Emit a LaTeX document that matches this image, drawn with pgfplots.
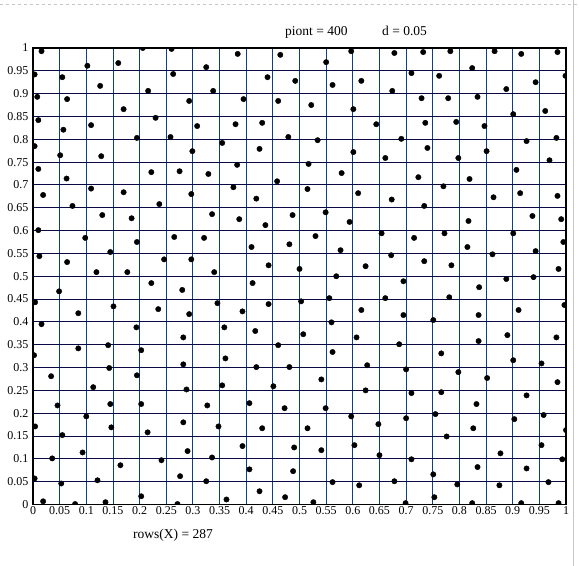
\documentclass[border=0pt]{standalone}
\usepackage{fontspec}
\setmainfont{Liberation Serif}
\usepackage{pgfplots}
\pgfplotsset{compat=1.18}
\definecolor{vgrid}{HTML}{0B3F86}
\definecolor{hgrid}{HTML}{0A0A45}
\begin{document}
\begin{tikzpicture}[x=1bp,y=1bp]
\path[use as bounding box] (0,0) rectangle (579,566);
\draw[gray!45, dashed, line width=0.8bp] (0,562) -- (579,562);
\draw[gray!45, line width=1bp] (573.5,566) -- (573.5,0);
\begin{axis}[
  at={(33bp,61.5bp)}, anchor=south west,
  scale only axis, width=533bp, height=456.5bp,
  xmin=0, xmax=1, ymin=0, ymax=1,
  xtick={0,0.05,0.1,0.15,0.2,0.25,0.3,0.35,0.4,0.45,0.5,0.55,0.6,0.65,0.7,0.75,0.8,0.85,0.9,0.95,1},
  ytick={0,0.05,0.1,0.15,0.2,0.25,0.3,0.35,0.4,0.45,0.5,0.55,0.6,0.65,0.7,0.75,0.8,0.85,0.9,0.95,1},
  xticklabels={0,0.05,0.1,0.15,0.2,0.25,0.3,0.35,0.4,0.45,0.5,0.55,0.6,0.65,0.7,0.75,0.8,0.85,0.9,0.95,1},
  yticklabels={0,0.05,0.1,0.15,0.2,0.25,0.3,0.35,0.4,0.45,0.5,0.55,0.6,0.65,0.7,0.75,0.8,0.85,0.9,0.95,1},
  major tick length=0pt,
  grid=major,
  major x grid style={vgrid, line width=0.9bp},
  major y grid style={hgrid, line width=0.9bp},
  axis line style={black, line width=1.4bp},
  tick label style={font=\fontsize{12bp}{13bp}\selectfont},
  xticklabel style={yshift=1bp},
  yticklabel style={xshift=-1bp},
  /pgf/number format/assume math mode=true,
  clip marker paths=true,
]
\addplot[only marks, mark=*, mark size=2.7bp, black] table[row sep=\\] {
x y\\
0.016 0.993\\ 0.206 1.000\\ 0.260 0.998\\ 0.102 0.961\\ 0.160 0.967\\ 0.325 0.958\\
0.003 0.942\\ 0.055 0.936\\ 0.263 0.943\\ 0.126 0.917\\ 0.216 0.906\\ 0.338 0.906\\
0.008 0.893\\ 0.064 0.888\\ 0.293 0.884\\ 0.170 0.866\\ 0.010 0.842\\ 0.230 0.847\\
0.057 0.821\\ 0.109 0.831\\ 0.308 0.829\\ 0.195 0.803\\ 0.258 0.805\\ 0.003 0.785\\
0.051 0.765\\ 0.128 0.763\\ 0.299 0.774\\ 0.010 0.735\\ 0.063 0.714\\ 0.222 0.728\\
0.275 0.730\\ 0.329 0.724\\ 0.019 0.678\\ 0.109 0.692\\ 0.170 0.684\\ 0.297 0.680\\
0.384 0.987\\ 0.464 0.985\\ 0.597 0.993\\ 0.678 0.989\\ 0.550 0.969\\ 0.440 0.936\\
0.492 0.928\\ 0.562 0.919\\ 0.616 0.928\\ 0.674 0.906\\ 0.395 0.888\\ 0.460 0.884\\
0.522 0.875\\ 0.601 0.866\\ 0.380 0.833\\ 0.430 0.836\\ 0.644 0.833\\ 0.479 0.805\\
0.355 0.792\\ 0.534 0.798\\ 0.425 0.779\\ 0.601 0.772\\ 0.661 0.759\\ 0.383 0.744\\
0.517 0.746\\ 0.579 0.726\\ 0.458 0.708\\ 0.376 0.695\\ 0.515 0.691\\ 0.610 0.682\\
0.419 0.670\\ 0.673 0.668\\
0.732 0.991\\ 0.783 0.993\\ 0.866 0.993\\ 0.916 0.987\\ 0.984 0.991\\ 0.824 0.956\\
0.710 0.945\\ 0.762 0.939\\ 0.999 0.939\\ 0.943 0.925\\ 0.888 0.910\\ 0.729 0.890\\
0.779 0.890\\ 0.834 0.893\\ 0.901 0.855\\ 0.961 0.862\\ 0.736 0.836\\ 0.794 0.838\\
0.847 0.829\\ 0.691 0.801\\ 0.926 0.796\\ 0.982 0.803\\ 0.740 0.781\\ 0.851 0.774\\
0.798 0.759\\ 0.969 0.754\\ 0.907 0.733\\ 0.723 0.717\\ 0.819 0.713\\ 0.770 0.697\\
0.864 0.673\\ 0.914 0.682\\ 0.984 0.676\\
0.237 0.658\\ 0.074 0.654\\ 0.130 0.634\\ 0.185 0.627\\ 0.336 0.636\\ 0.010 0.601\\
0.098 0.584\\ 0.195 0.575\\ 0.265 0.586\\ 0.321 0.584\\ 0.012 0.544\\ 0.064 0.531\\
0.145 0.553\\ 0.246 0.537\\ 0.297 0.537\\ 0.119 0.509\\ 0.177 0.509\\ 0.340 0.509\\
0.222 0.485\\ 0.049 0.467\\ 0.280 0.470\\ 0.004 0.443\\ 0.085 0.419\\ 0.151 0.434\\
0.235 0.428\\ 0.293 0.417\\ 0.016 0.395\\ 0.194 0.388\\ 0.282 0.366\\ 0.085 0.342\\
0.141 0.349\\ 0.203 0.338\\
0.387 0.625\\ 0.436 0.612\\ 0.487 0.634\\ 0.549 0.640\\ 0.594 0.619\\ 0.654 0.594\\
0.410 0.564\\ 0.481 0.570\\ 0.530 0.588\\ 0.577 0.557\\ 0.672 0.546\\ 0.442 0.524\\
0.500 0.516\\ 0.569 0.500\\ 0.624 0.522\\ 0.412 0.485\\ 0.346 0.441\\ 0.393 0.423\\
0.442 0.439\\ 0.503 0.445\\ 0.556 0.452\\ 0.616 0.426\\ 0.661 0.452\\ 0.359 0.388\\
0.417 0.380\\ 0.507 0.373\\ 0.560 0.399\\ 0.607 0.366\\ 0.460 0.349\\ 0.562 0.334\\
0.734 0.654\\ 0.817 0.621\\ 0.937 0.632\\ 0.991 0.625\\ 0.715 0.584\\ 0.772 0.594\\
0.815 0.564\\ 0.901 0.594\\ 0.995 0.575\\ 0.734 0.533\\ 0.785 0.524\\ 0.862 0.548\\
0.943 0.555\\ 0.986 0.516\\ 0.695 0.489\\ 0.837 0.476\\ 0.888 0.494\\ 0.939 0.498\\
0.781 0.454\\ 0.695 0.415\\ 0.751 0.404\\ 0.836 0.415\\ 0.911 0.426\\ 0.997 0.437\\
0.687 0.351\\ 0.836 0.358\\ 0.890 0.371\\ 0.982 0.366\\ 0.766 0.331\\
0.002 0.327\\ 0.282 0.307\\ 0.034 0.281\\ 0.143 0.299\\ 0.195 0.283\\ 0.113 0.257\\
0.288 0.252\\ 0.046 0.217\\ 0.145 0.220\\ 0.203 0.220\\ 0.327 0.217\\ 0.004 0.171\\
0.100 0.193\\ 0.147 0.169\\ 0.215 0.158\\ 0.282 0.180\\ 0.055 0.152\\ 0.093 0.114\\
0.290 0.117\\ 0.036 0.101\\ 0.164 0.086\\ 0.241 0.097\\ 0.336 0.103\\ 0.003 0.057\\
0.053 0.046\\ 0.121 0.053\\ 0.276 0.062\\ 0.325 0.051\\ 0.019 0.007\\ 0.079 0.001\\
0.136 0.005\\ 0.203 0.018\\ 0.271 0.001\\
0.361 0.320\\ 0.419 0.301\\ 0.481 0.301\\ 0.627 0.305\\ 0.355 0.261\\ 0.451 0.259\\
0.541 0.274\\ 0.624 0.250\\ 0.406 0.222\\ 0.472 0.211\\ 0.549 0.211\\ 0.348 0.171\\
0.430 0.167\\ 0.515 0.167\\ 0.597 0.193\\ 0.648 0.176\\ 0.393 0.128\\ 0.490 0.125\\
0.541 0.119\\ 0.603 0.130\\ 0.650 0.108\\ 0.406 0.077\\ 0.488 0.073\\ 0.562 0.049\\
0.612 0.042\\ 0.678 0.051\\ 0.425 0.029\\ 0.473 0.016\\ 0.363 0.011\\ 0.526 0.005\\
0.901 0.316\\ 0.954 0.309\\ 0.700 0.296\\ 0.798 0.290\\ 0.852 0.277\\ 0.984 0.268\\
0.710 0.244\\ 0.766 0.246\\ 0.926 0.239\\ 0.832 0.220\\ 0.700 0.189\\ 0.755 0.198\\
0.903 0.187\\ 0.958 0.196\\ 0.826 0.167\\ 1.000 0.163\\ 0.776 0.149\\ 0.954 0.130\\
0.877 0.112\\ 0.710 0.099\\ 0.993 0.099\\ 0.834 0.082\\ 0.926 0.079\\ 0.751 0.066\\
0.796 0.044\\ 0.875 0.042\\ 0.967 0.049\\ 0.753 0.016\\ 0.699 0.003\\ 0.824 0.003\\
0.916 0.003\\ 0.986 0.003\\
};
\end{axis}
\node[anchor=base west, font=\fontsize{13.5bp}{15bp}\selectfont, inner sep=0] at (285,530) {piont = 400};
\node[anchor=base west, font=\fontsize{13.5bp}{15bp}\selectfont, inner sep=0] at (382,530) {d = 0.05};
\node[anchor=base, font=\fontsize{13.5bp}{15bp}\selectfont, inner sep=0] at (173,27) {rows(X) = 287};
\end{tikzpicture}
\end{document}
